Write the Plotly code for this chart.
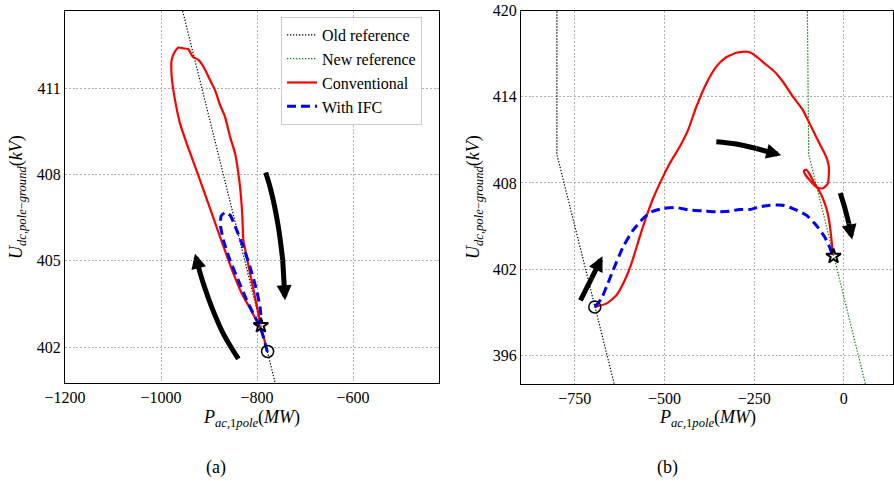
import plotly.graph_objects as go

W, H = 894, 481
FONT = "'Liberation Serif', 'Times New Roman', serif"

# ---------------- Panel (a) data ----------------
a_old_x = [-967, -751]
a_old_y = [414.5, 400.0]

a_conv_x = [-778.5, -790.3, -799.3, -818.1, -831.9, -849.3, -877.1, -918.8, -946.5, -960.4,
            -970.8, -977.8, -977.8, -972.9, -963.9, -953.5, -943.1, -934.0, -922.2, -911.8,
            -897.9, -887.5, -877.1, -866.7, -856.3, -845.8, -838.9, -834.0, -830.6, -828.5,
            -821.5, -814.6, -804.2, -797.2, -793.8]
a_conv_y = [401.83, 402.58, 402.87, 403.45, 403.86, 404.56, 405.83, 407.81, 409.08, 409.78,
            410.59, 411.41, 411.99, 412.22, 412.42, 412.39, 412.36, 412.10, 411.99, 411.76,
            411.29, 410.94, 410.42, 410.01, 409.32, 408.74, 408.04, 407.34, 406.53, 405.72,
            405.14, 404.56, 403.74, 403.16, 402.81]

a_ifc_x = [-778.5, -786.8, -793.8, -807.6, -821.5, -838.9, -856.3, -870.1, -875.7, -875.0,
           -866.7, -856.3, -842.4, -828.5, -814.6, -800.7, -793.8, -790.3]
a_ifc_y = [401.83, 402.35, 402.70, 403.16, 403.63, 404.32, 405.02, 405.72, 406.18, 406.55,
           406.68, 406.59, 406.07, 405.48, 404.79, 403.97, 403.39, 402.81]

a_start = (-778.0, 401.85)
a_end = (-792.0, 402.75)

a_arrow1_x = [-838.9, -870.1, -894.4, -911.8, -922.2, -929.2]
a_arrow1_y = [401.59, 402.46, 403.39, 404.21, 404.79, 405.25]
a_arrow2_x = [-781.9, -769.4, -755.6, -746.5, -741.7]
a_arrow2_y = [408.07, 407.34, 406.18, 405.02, 403.63]

# ---------------- Panel (b) data ----------------
b_old_x = [-800, -800, -630]
b_old_y = [421.0, 410.0, 393.0]
b_new_x = [-102, -98, 62]
b_new_y = [421.0, 410.0, 393.8]

b_conv_x = [-694.3, -661.8, -634.0, -610.8, -592.2, -569.0, -552.3, -531.9, -508.7, -485.5,
            -457.6, -434.4, -411.2, -383.4, -355.5, -332.3, -299.8, -267.3, -248.8, -220.9,
            -193.1, -169.9, -142.0, -114.2, -91.0, -67.8, -49.2, -41.8, -41.8, -44.6,
            -58.5, -75.2, -91.0, -106.7, -111.4, -104.9, -93.8, -81.7, -69.6, -58.5,
            -47.3, -39.9, -35.3, -32.5, -30.6]
b_conv_y = [399.37, 399.60, 400.18, 401.23, 402.39, 404.25, 405.53, 406.92, 408.20, 409.36,
            410.52, 411.68, 413.31, 414.93, 416.10, 416.68, 417.07, 417.14, 416.91, 416.33,
            415.75, 415.05, 414.01, 413.08, 411.91, 410.75, 409.82, 409.13, 408.66, 407.96,
            407.62, 407.69, 408.08, 408.55, 408.85, 408.94, 408.55, 407.96, 407.50, 406.92,
            406.11, 405.18, 404.25, 403.55, 402.97]

b_ifc_x = [-694.3, -675.8, -661.8, -643.3, -615.4, -587.6, -559.7, -536.5, -504.0, -466.9,
           -429.8, -392.6, -355.5, -318.4, -290.5, -262.7, -234.8, -207.0, -169.9, -142.0,
           -104.9, -77.0, -53.8, -39.9, -30.6]
b_ifc_y = [399.37, 399.95, 400.76, 401.92, 403.55, 404.71, 405.53, 405.99, 406.22, 406.29,
           406.11, 406.06, 405.99, 406.04, 406.15, 406.15, 406.34, 406.45, 406.45, 406.22,
           405.76, 405.06, 404.25, 403.55, 402.90]

b_start = (-694.3, 399.37)
b_end = (-28.8, 402.9)

b_arrow1_x = [-734.3, -703.0, -673.0]
b_arrow1_y = [399.83, 401.37, 402.90]
b_arrow2_x = [-355.5, -299.8, -244.1, -174.5]
b_arrow2_y = [410.87, 410.71, 410.40, 409.94]
b_arrow3_x = [-10.2, 1.9, 13.9, 23.2]
b_arrow3_y = [407.31, 406.34, 405.18, 404.06]

fig = go.Figure()


def ref_line(x, y, color, name, xa, ya, legend):
    fig.add_trace(go.Scatter(x=x, y=y, mode="lines", name=name, showlegend=legend,
                             line=dict(color=color, width=1.2, dash="1.3px,1.7px"),
                             xaxis=xa, yaxis=ya, hoverinfo="skip"))


def conv_line(x, y, xa, ya, legend):
    fig.add_trace(go.Scatter(x=x, y=y, mode="lines", name="Conventional", showlegend=legend,
                             line=dict(color="#ff0000", width=2.2, shape="spline", smoothing=0.5),
                             xaxis=xa, yaxis=ya))


def ifc_line(x, y, xa, ya, legend):
    fig.add_trace(go.Scatter(x=x, y=y, mode="lines", name="With IFC", showlegend=legend,
                             line=dict(color="#0000ff", width=3, dash="9px,5px", shape="spline", smoothing=0.5),
                             xaxis=xa, yaxis=ya))


def arrow(x, y, xa, ya):
    # shaft drawn as a thick line, head as an annotation arrow on the last segment
    fig.add_trace(go.Scatter(x=x[:-1], y=y[:-1], mode="lines", showlegend=False,
                             line=dict(color="black", width=5, shape="spline"),
                             xaxis=xa, yaxis=ya, hoverinfo="skip"))
    fig.add_annotation(x=x[-1], y=y[-1], ax=x[-2], ay=y[-2], xref=xa, yref=ya,
                       axref=xa, ayref=ya, showarrow=True, arrowhead=2, arrowsize=0.6,
                       arrowwidth=5, arrowcolor="black", text="", font=dict(size=1),
                       borderpad=0, borderwidth=0)


def endpoints(start, end, xa, ya):
    fig.add_trace(go.Scatter(x=[start[0]], y=[start[1]], mode="markers", showlegend=False,
                             marker=dict(symbol="circle-open", size=12, color="black",
                                         line=dict(width=1.5, color="black")),
                             xaxis=xa, yaxis=ya))
    fig.add_trace(go.Scatter(x=[end[0]], y=[end[1]], mode="markers", showlegend=False,
                             marker=dict(symbol="star-open", size=11, color="black",
                                         line=dict(width=2, color="black")),
                             xaxis=xa, yaxis=ya))


# Panel (a)
ref_line(a_old_x, a_old_y, "black", "Old reference", "x", "y", True)
ref_line(b_new_x, b_new_y, "green", "New reference", "x", "y", True)
conv_line(a_conv_x, a_conv_y, "x", "y", True)
ifc_line(a_ifc_x, a_ifc_y, "x", "y", True)
arrow(a_arrow1_x, a_arrow1_y, "x", "y")
arrow(a_arrow2_x, a_arrow2_y, "x", "y")
endpoints(a_start, a_end, "x", "y")

# Panel (b)
ref_line(b_old_x, b_old_y, "black", "Old reference", "x2", "y2", False)
ref_line(b_new_x, b_new_y, "green", "New reference", "x2", "y2", False)
conv_line(b_conv_x, b_conv_y, "x2", "y2", False)
ifc_line(b_ifc_x, b_ifc_y, "x2", "y2", False)
arrow(b_arrow1_x, b_arrow1_y, "x2", "y2")
arrow(b_arrow2_x, b_arrow2_y, "x2", "y2")
arrow(b_arrow3_x, b_arrow3_y, "x2", "y2")
endpoints(b_start, b_end, "x2", "y2")

axis_common = dict(showgrid=True, gridcolor="#b0b0b0", griddash="2px,1.8px", gridwidth=1,
                   showline=True, linecolor="black", linewidth=1, mirror=True,
                   ticks="", zeroline=False, automargin=False,
                   tickfont=dict(family=FONT, size=16, color="black"))

fig.update_layout(
    width=W, height=H,
    margin=dict(l=0, r=0, t=0, b=0),
    paper_bgcolor="white", plot_bgcolor="white",
    font=dict(family=FONT, size=16, color="black"),
    xaxis=dict(domain=[65 / W, 439 / W], range=[-1200, -421], anchor="y",
               tickvals=[-1200, -1000, -800, -600], **axis_common),
    yaxis=dict(domain=[1 - 383 / H, 1 - 10.7 / H], range=[400.75, 413.7], anchor="x",
               tickvals=[402, 405, 408, 411], **axis_common),
    xaxis2=dict(domain=[521 / W, 893 / W], range=[-900, 137], anchor="y2",
                tickvals=[-750, -500, -250, 0], **axis_common),
    yaxis2=dict(domain=[1 - 384 / H, 1 - 10.7 / H], range=[394, 420], anchor="x2",
                tickvals=[396, 402, 408, 414, 420], **axis_common),
    legend=dict(x=281 / W, y=1 - 17 / H, xanchor="left", yanchor="top",
                bgcolor="rgba(255,255,255,0.9)", bordercolor="#cccccc", borderwidth=1,
                font=dict(family=FONT, size=16, color="black"), tracegroupgap=0),
    showlegend=True,
)

ytitle = "<i>U</i><sub><i>dc,pole</i>−<i>ground</i></sub>(<i>kV</i>)"
xtitle = "<i>P</i><sub><i>ac,</i>1<i>pole</i></sub>(<i>MW</i>)"

annos = [
    dict(text=ytitle, x=18 / W, y=1 - 197 / H, textangle=-90, font=dict(family=FONT, size=18, color="black")),
    dict(text=ytitle, x=475 / W, y=1 - 197 / H, textangle=-90, font=dict(family=FONT, size=18, color="black")),
    dict(text=xtitle, x=252 / W, y=1 - 418 / H, font=dict(family=FONT, size=18, color="black")),
    dict(text=xtitle, x=707 / W, y=1 - 418 / H, font=dict(family=FONT, size=18, color="black")),
    dict(text="(a)", x=216 / W, y=1 - 467 / H, font=dict(family=FONT, size=18, color="black")),
    dict(text="(b)", x=667 / W, y=1 - 467 / H, font=dict(family=FONT, size=18, color="black")),
]
for a in annos:
    fig.add_annotation(xref="paper", yref="paper", showarrow=False,
                       xanchor="center", yanchor="middle", **a)

fig.write_html("out.html", config={"displayModeBar": False},
               post_script="document.body.style.margin='0';document.body.style.overflow='hidden';")
